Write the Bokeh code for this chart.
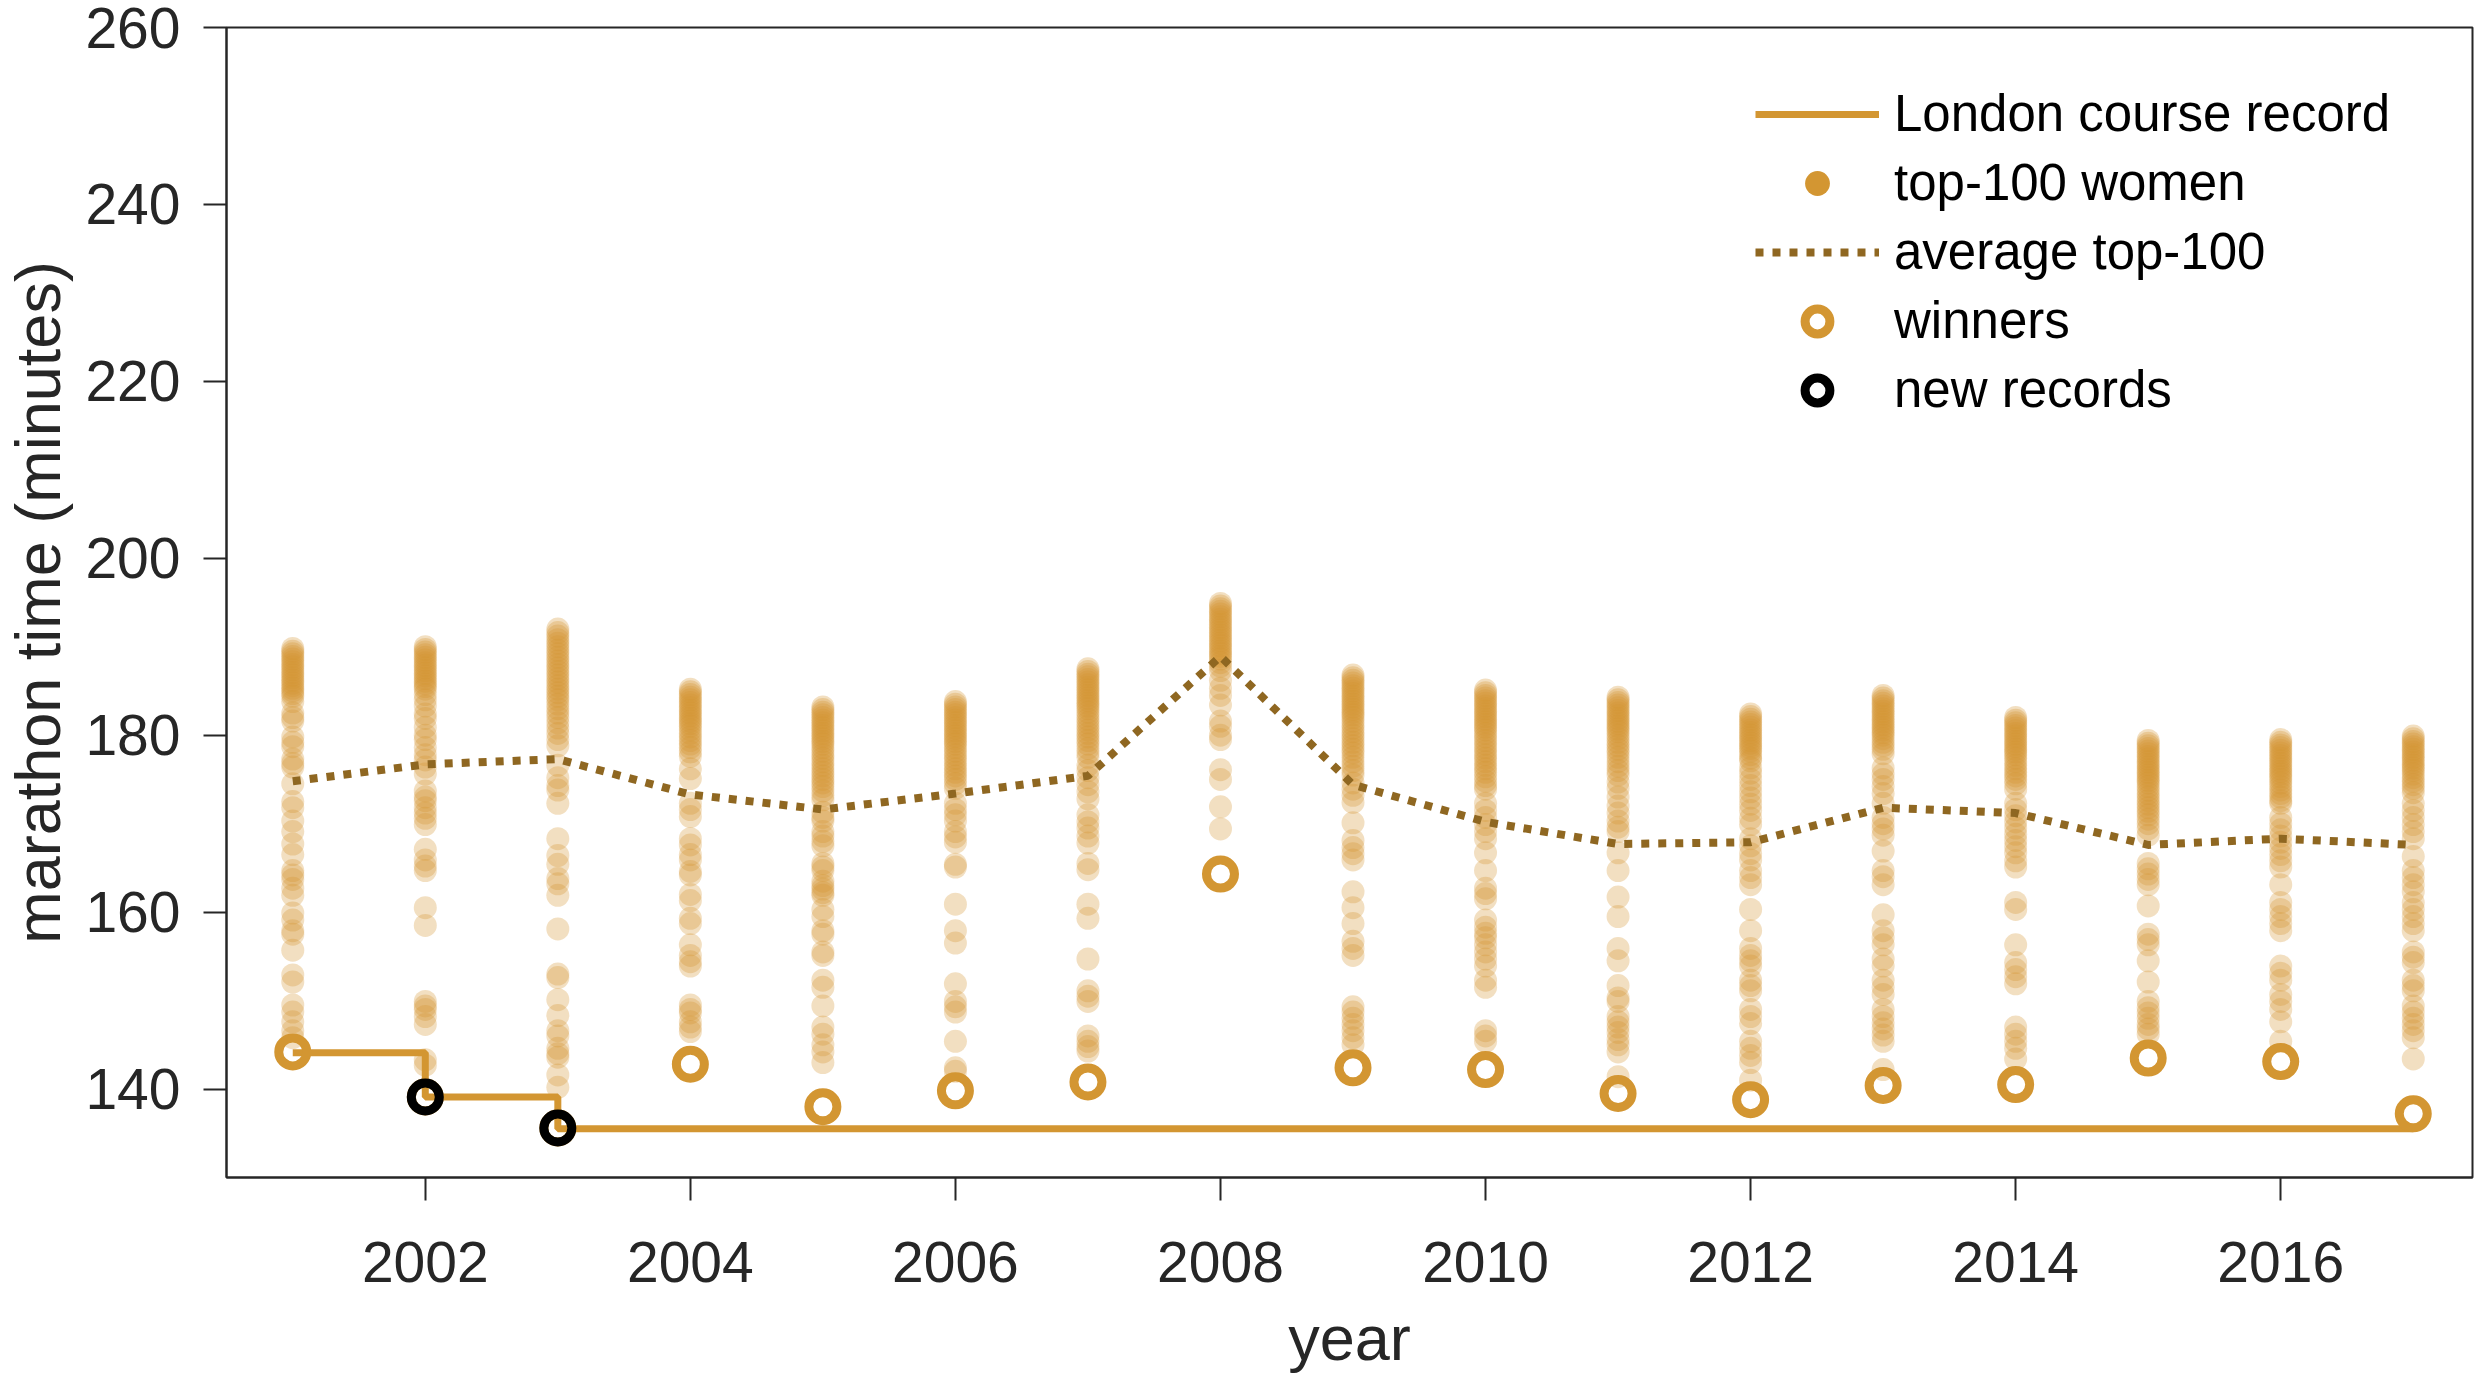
from bokeh.plotting import figure
from bokeh.models import Range1d, FixedTicker, Legend, LegendItem
from bokeh.embed import file_html
from bokeh.resources import INLINE

years = list(range(2001, 2018))
x_ticks = [2002, 2004, 2006, 2008, 2010, 2012, 2014, 2016]
y_ticks = [140, 160, 180, 200, 220, 240, 260]

t2001 = [189.8, 189.5, 189.2, 188.9, 188.6, 188.3, 188.0, 187.7, 187.4, 187.1, 186.8, 186.5, 186.2, 185.9,
         185.6, 185.3, 185.0, 184.7, 184.4, 183.8, 182.5, 182.0, 181.6, 179.8, 179.2, 178.7, 177.3, 176.8,
         176.4, 174.5, 172.5, 171.8, 170.3, 169.1, 167.7, 166.5, 164.7, 164.2, 163.7, 162.7, 161.9, 159.9,
         159.1, 157.9, 157.5, 155.7, 152.9, 152.1, 149.5, 148.7, 147.6, 146.6, 145.8]
t2002 = [190.0, 189.7, 189.4, 189.1, 188.8, 188.5, 188.2, 187.9, 187.6, 187.3, 187.0, 186.7, 186.4, 186.1,
         185.8, 185.5, 185.2, 184.6, 184.0, 183.3, 182.4, 181.9, 180.9, 180.0, 179.5, 178.6, 177.8, 177.2,
         176.4, 175.6, 173.7, 173.0, 172.6, 171.8, 171.2, 170.6, 169.9, 167.1, 165.9, 165.2, 164.7, 160.5,
         158.5, 149.9, 149.4, 149.0, 148.2, 147.3, 143.3, 142.7]
t2003 = [192.0, 191.6, 191.2, 190.8, 190.4, 190.0, 189.6, 189.2, 188.8, 188.4, 188.0, 187.6, 187.2, 186.8,
         186.4, 186.0, 185.6, 185.2, 184.8, 184.4, 184.0, 183.5, 183.0, 182.5, 182.0, 181.4, 180.8, 180.2,
         179.5, 178.8, 176.6, 175.2, 174.3, 173.8, 172.3, 168.3, 166.4, 165.4, 163.8, 163.2, 161.9, 158.1,
         153.0, 152.6, 150.1, 148.3, 146.6, 146.0, 144.6, 144.0, 143.6, 141.6, 140.2]
t2004 = [185.2, 184.9, 184.6, 184.3, 184.0, 183.7, 183.4, 183.1, 182.8, 182.5, 182.2, 181.9, 181.6, 181.3,
         181.0, 180.6, 180.2, 179.8, 179.4, 179.0, 178.6, 178.1, 177.6, 176.2, 175.1, 172.3, 171.6, 170.8,
         168.3, 167.6, 166.5, 165.9, 164.6, 164.2, 162.0, 161.3, 159.3, 158.7, 156.3, 155.1, 154.4, 153.9,
         149.5, 149.0, 148.6, 147.6, 147.0, 146.5]
t2005 = [183.2, 182.9, 182.6, 182.3, 182.0, 181.7, 181.4, 181.1, 180.8, 180.5, 180.2, 179.9, 179.6, 179.3,
         179.0, 178.6, 178.2, 177.8, 177.4, 177.0, 176.6, 176.2, 175.8, 175.4, 175.0, 174.6, 174.2, 173.7,
         173.2, 172.7, 171.3, 170.7, 170.3, 169.1, 168.6, 168.0, 167.5, 165.5, 165.1, 164.7, 163.5, 163.0,
         162.6, 162.2, 161.9, 160.3, 159.5, 157.9, 157.5, 155.5, 155.1, 152.3, 151.5, 149.4, 147.0, 146.2,
         145.0, 144.2, 143.0]
t2006 = [183.8, 183.5, 183.2, 182.9, 182.6, 182.3, 182.0, 181.7, 181.4, 181.1, 180.8, 180.5, 180.2, 179.9,
         179.6, 179.3, 179.0, 178.6, 178.2, 177.8, 177.4, 177.0, 176.6, 176.2, 175.8, 175.4, 175.0, 174.5,
         174.0, 172.3, 171.6, 171.0, 170.3, 169.1, 168.5, 167.9, 165.4, 165.1, 160.9, 157.9, 156.5, 151.9,
         149.9, 149.3, 148.7, 145.4, 142.4, 142.0]
t2007 = [187.5, 187.2, 186.9, 186.6, 186.3, 186.0, 185.7, 185.4, 185.1, 184.8, 184.5, 184.2, 183.9, 183.6,
         183.3, 183.0, 182.6, 182.2, 181.8, 181.4, 181.0, 180.6, 180.2, 179.8, 179.4, 179.0, 178.5, 178.0,
         177.5, 176.6, 176.0, 175.2, 174.4, 173.6, 172.8, 171.0, 170.2, 169.5, 168.6, 167.8, 165.5, 164.8,
         160.9, 159.3, 154.7, 151.1, 150.5, 149.9, 146.0, 145.4, 144.8, 144.3]
t2008 = [194.9, 194.6, 194.3, 194.0, 193.7, 193.4, 193.1, 192.8, 192.5, 192.2, 191.9, 191.6, 191.3, 191.0,
         190.7, 190.4, 190.1, 189.8, 189.5, 189.2, 188.9, 188.6, 188.2, 187.8, 187.3, 186.2, 185.3, 184.5,
         183.4, 181.6, 181.0, 180.0, 179.5, 176.1, 175.0, 171.9, 169.4]
t2009 = [186.8, 186.5, 186.2, 185.9, 185.6, 185.3, 185.0, 184.7, 184.4, 184.1, 183.8, 183.5, 183.2, 182.9,
         182.6, 182.3, 182.0, 181.6, 181.2, 180.8, 180.4, 180.0, 179.6, 179.2, 178.8, 178.4, 178.0, 177.5,
         177.0, 176.5, 176.0, 175.5, 174.6, 173.9, 173.2, 172.4, 170.1, 168.1, 167.3, 166.6, 165.9, 162.3,
         160.5, 158.7, 156.7, 155.9, 155.1, 149.3, 148.7, 148.0, 147.3, 146.6, 145.8, 145.0]
t2010 = [185.1, 184.8, 184.5, 184.2, 183.9, 183.6, 183.3, 183.0, 182.7, 182.4, 182.1, 181.8, 181.5, 181.2,
         180.9, 180.6, 180.2, 179.8, 179.4, 179.0, 178.6, 178.2, 177.8, 177.4, 177.0, 176.6, 176.2, 175.8,
         175.3, 174.8, 174.3, 173.9, 172.3, 171.5, 170.7, 169.9, 169.1, 168.3, 166.7, 164.7, 162.7, 162.1,
         161.5, 159.1, 158.3, 157.6, 157.1, 156.3, 155.5, 154.7, 153.9, 152.3, 151.5, 146.6, 146.0, 145.4]
t2011 = [184.3, 184.0, 183.7, 183.4, 183.1, 182.8, 182.5, 182.2, 181.9, 181.6, 181.3, 181.0, 180.7, 180.4,
         180.0, 179.6, 179.2, 178.8, 178.4, 178.0, 177.5, 177.0, 176.5, 176.0, 175.5, 174.7, 174.0, 173.0,
         172.0, 171.2, 170.3, 169.6, 169.1, 166.7, 164.7, 161.7, 159.5, 155.9, 154.5, 151.7, 150.3, 149.9,
         148.2, 147.6, 147.0, 146.4, 145.6, 145.0, 144.2, 141.4]
t2012 = [182.4, 182.1, 181.8, 181.5, 181.2, 180.9, 180.6, 180.3, 180.0, 179.7, 179.4, 179.1, 178.8, 178.5,
         178.2, 177.8, 177.4, 177.1, 176.3, 175.7, 175.0, 174.3, 173.6, 172.9, 172.2, 171.5, 170.6, 169.9,
         168.3, 167.5, 166.6, 165.9, 164.7, 163.9, 163.1, 160.3, 157.9, 155.9, 155.1, 154.5, 153.9, 152.3,
         151.7, 151.1, 149.0, 148.2, 147.4, 145.4, 144.6, 143.8, 143.0, 141.0]
t2013 = [184.5, 184.2, 183.9, 183.6, 183.3, 183.0, 182.7, 182.4, 182.1, 181.8, 181.5, 181.2, 180.9, 180.6,
         180.3, 180.0, 179.6, 179.2, 178.8, 178.4, 177.9, 176.3, 175.6, 175.0, 174.2, 173.4, 172.3, 170.7,
         170.0, 169.4, 168.7, 166.9, 164.7, 164.0, 163.1, 159.7, 157.9, 157.1, 156.3, 154.7, 153.9, 152.3,
         151.5, 150.7, 149.0, 148.2, 147.5, 146.8, 146.1, 145.4, 142.2]
t2014 = [182.0, 181.7, 181.4, 181.1, 180.8, 180.5, 180.2, 179.9, 179.6, 179.3, 179.0, 178.7, 178.4, 178.1,
         177.8, 177.4, 177.0, 176.6, 176.2, 175.8, 175.4, 175.0, 174.5, 173.9, 172.3, 171.6, 170.9, 170.2,
         169.5, 168.8, 168.1, 167.4, 166.7, 165.8, 165.1, 161.1, 160.3, 156.3, 154.3, 153.5, 152.7, 151.9,
         147.0, 146.2, 145.4, 144.6, 143.4]
t2015 = [179.4, 179.1, 178.8, 178.5, 178.2, 177.9, 177.6, 177.3, 177.0, 176.7, 176.4, 176.1, 175.8, 175.5,
         175.2, 174.9, 174.6, 174.2, 173.8, 173.4, 173.0, 172.6, 172.2, 171.8, 171.4, 171.0, 170.5, 170.0,
         169.4, 168.7, 165.5, 164.9, 164.3, 163.7, 163.1, 160.7, 157.5, 156.9, 156.3, 154.5, 152.1, 149.9,
         149.2, 148.6, 148.0, 147.3, 146.8, 146.2]
t2016 = [179.5, 179.2, 178.9, 178.6, 178.3, 178.0, 177.7, 177.4, 177.1, 176.8, 176.5, 176.2, 175.9, 175.6,
         175.3, 175.0, 174.6, 174.2, 173.8, 173.4, 173.0, 172.6, 172.3, 170.7, 170.0, 169.3, 168.6, 167.9,
         167.2, 166.5, 165.8, 165.1, 163.1, 161.1, 160.3, 159.5, 158.7, 157.9, 153.9, 153.1, 152.3, 150.7,
         149.9, 149.0, 147.6, 145.4]
t2017 = [179.9, 179.6, 179.3, 179.0, 178.7, 178.4, 178.1, 177.8, 177.5, 177.2, 176.9, 176.6, 176.3, 176.0,
         175.6, 175.2, 174.8, 174.4, 174.0, 173.5, 172.3, 171.5, 170.7, 169.9, 169.1, 168.3, 166.3, 164.7,
         163.9, 163.1, 162.3, 161.1, 160.3, 159.5, 158.7, 157.9, 155.5, 154.9, 154.3, 152.3, 151.7, 151.1,
         149.4, 148.7, 148.0, 147.3, 146.6, 145.8, 143.4]

top100 = [t2001, t2002, t2003, t2004, t2005, t2006, t2007, t2008, t2009,
          t2010, t2011, t2012, t2013, t2014, t2015, t2016, t2017]

average_top100 = [174.8, 176.7, 177.3, 173.3, 171.6, 173.4, 175.4, 188.9, 174.4,
                  170.2, 167.7, 167.9, 171.8, 171.2, 167.6, 168.3, 167.6]
winners = [144.2, 139.1, 135.6, 142.8, 138.0, 139.8, 140.8, 164.3, 142.4,
           142.2, 139.5, 138.8, 140.4, 140.5, 143.5, 143.1, 137.2]
course_record = [144.1, 139.1, 135.5, 135.5, 135.5, 135.5, 135.5, 135.5, 135.5,
                 135.5, 135.5, 135.5, 135.5, 135.5, 135.5, 135.5, 135.5]
record_years = [2002, 2003]
record_times = [139.1, 135.6]

ORANGE = "#D39632"
BROWN = "#8F6721"
AXIS = "#262626"
FONT = "Liberation Sans"

sx, sy = [], []
for yr, vals in zip(years, top100):
    for v in vals:
        sx.append(yr)
        sy.append(v)

p = figure(width=2474, height=1375, x_range=Range1d(2000.5, 2017.447), y_range=Range1d(130, 260),
           output_backend="svg", toolbar_location=None,
           min_border_left=219, min_border_right=2, min_border_top=27, min_border_bottom=194)
p.background_fill_color = "white"
p.border_fill_color = "white"
p.outline_line_color = AXIS
p.outline_line_width = 2
p.xgrid.grid_line_color = None
p.ygrid.grid_line_color = None

p.xaxis.ticker = FixedTicker(ticks=x_ticks)
p.yaxis.ticker = FixedTicker(ticks=y_ticks)
for ax in (p.xaxis, p.yaxis):
    ax.axis_line_color = AXIS
    ax.axis_line_width = 2
    ax.major_tick_line_color = AXIS
    ax.major_tick_line_width = 2
    ax.major_tick_out = 23
    ax.major_tick_in = 0
    ax.minor_tick_line_color = None
    ax.major_label_text_font = FONT
    ax.major_label_text_font_size = "57px"
    ax.major_label_text_color = AXIS
    ax.axis_label_text_font = FONT
    ax.axis_label_text_font_size = "63px"
    ax.axis_label_text_font_style = "normal"
    ax.axis_label_text_color = AXIS
p.xaxis.major_label_standoff = 41
p.yaxis.major_label_standoff = 23
p.xaxis.axis_label = "year"
p.yaxis.axis_label = "marathon time (minutes)"
p.xaxis.axis_label_standoff = 18
p.yaxis.axis_label_standoff = 9

p.scatter(sx, sy, size=23, fill_color=ORANGE, fill_alpha=0.3, line_color=None)
r_avg = p.line(years, average_top100, line_color=BROWN, line_width=8, line_dash="8 9")
r_rec = p.step(years, course_record, mode="after", line_color=ORANGE, line_width=7)
r_win = p.scatter(years, winners, size=28, fill_color=None, line_color=ORANGE, line_width=9)
r_new = p.scatter(record_years, record_times, size=28, fill_color=None, line_color="black", line_width=9)
# legend-only swatch (NaN position, draws nothing in the plot area)
r_dot = p.scatter(x=[float("nan")], y=[float("nan")], size=25, fill_color=ORANGE, line_color=None)

legend = Legend(items=[
    LegendItem(label="London course record", renderers=[r_rec]),
    LegendItem(label="top-100 women", renderers=[r_dot]),
    LegendItem(label="average top-100", renderers=[r_avg]),
    LegendItem(label="winners", renderers=[r_win]),
    LegendItem(label="new records", renderers=[r_new]),
], location=(1529, 753), orientation="vertical", glyph_width=124, glyph_height=62,
    label_height=69, spacing=0, padding=0, margin=0, label_standoff=15,
    label_text_font=FONT, label_text_font_size="51px", label_text_color="black",
    border_line_color=None, background_fill_alpha=0)
p.add_layout(legend)

open("out.html", "w").write(file_html(p, INLINE))
